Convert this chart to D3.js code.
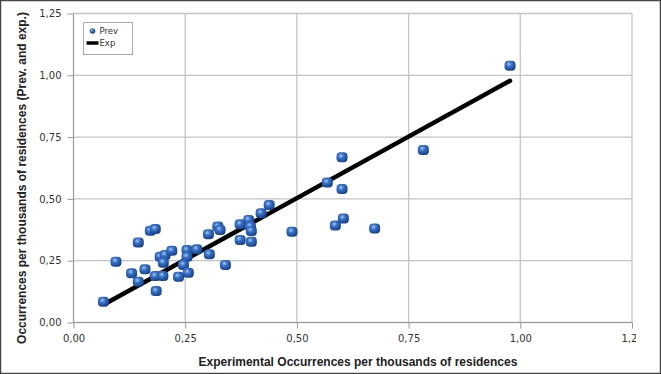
<!DOCTYPE html>
<html>
<head>
<meta charset="utf-8">
<script src="https://cdn.jsdelivr.net/npm/d3@7"></script>
<style>
  body { margin: 0; background: #fff; }
  svg text { font-family: "DejaVu Sans", Verdana, sans-serif; fill: #333; }
  .title { font-family: "Liberation Sans", Arial, sans-serif; font-size: 12px; font-weight: bold; fill: #222; }
</style>
</head>
<body>
<div id="chart"></div>
<script>
// Prev: experimental (x) vs predicted (y) occurrences
const prevX = [0.067, 0.095, 0.130, 0.145, 0.145, 0.160, 0.172, 0.183, 0.185, 0.183, 0.200,
  0.194, 0.205, 0.220, 0.201, 0.235, 0.254, 0.254, 0.246, 0.257, 0.276, 0.302, 0.323, 0.328,
  0.304, 0.340, 0.373, 0.392, 0.396, 0.398, 0.373, 0.398, 0.420, 0.438, 0.489, 0.568, 0.601,
  0.601, 0.586, 0.604, 0.674, 0.783, 0.977];
const prevY = [0.084, 0.246, 0.199, 0.165, 0.324, 0.215, 0.371, 0.378, 0.127, 0.188, 0.188,
  0.266, 0.273, 0.290, 0.242, 0.185, 0.293, 0.266, 0.233, 0.201, 0.296, 0.357, 0.388, 0.374,
  0.276, 0.233, 0.397, 0.415, 0.388, 0.370, 0.334, 0.327, 0.442, 0.475, 0.367, 0.566, 0.668,
  0.540, 0.392, 0.421, 0.380, 0.698, 1.039];
// Exp line
const expX = [0.072, 0.977];
const expY = [0.077, 0.978];
const ticks = [0, 0.25, 0.5, 0.75, 1.0, 1.25];

const width = 661, height = 374;
const margin = {top: 13.5, right: 29, bottom: 51.5, left: 73.5};

const svg = d3.select('#chart').append('svg')
  .attr('width', width)
  .attr('height', height);

const defs = svg.append('defs');
const grad = defs.append('radialGradient')
  .attr('id', 'ball')
  .attr('cx', '40%').attr('cy', '35%').attr('r', '70%');
grad.append('stop').attr('offset', '0%').attr('stop-color', '#a4c8f4');
grad.append('stop').attr('offset', '35%').attr('stop-color', '#3a73c6');
grad.append('stop').attr('offset', '100%').attr('stop-color', '#123b86');

// the last x label is cut off in the original
defs.append('clipPath').attr('id', 'cut')
  .append('rect').attr('x', 0).attr('y', -10).attr('width', 636).attr('height', 60);

// outer frame
svg.append('rect')
  .attr('x', 0.5).attr('y', 0.5)
  .attr('width', width - 1).attr('height', height - 1)
  .attr('fill', 'none').attr('stroke', '#444').attr('stroke-width', 1.5);

const x = d3.scaleLinear().domain([0, 1.25]).range([margin.left, width - margin.right]);
const y = d3.scaleLinear().domain([0, 1.25]).range([height - margin.bottom, margin.top]);
const fmt = (d) => d3.format('.2f')(d).replace('.', ',');

// grid
const grid = svg.append('g');
grid.selectAll('.gx').data(ticks).enter().append('line')
  .attr('x1', (d) => x(d)).attr('x2', (d) => x(d))
  .attr('y1', y(0)).attr('y2', y(1.25))
  .attr('stroke', '#c4c4c4').attr('stroke-width', 1.3);
grid.selectAll('.gy').data(ticks).enter().append('line')
  .attr('x1', x(0)).attr('x2', x(1.25))
  .attr('y1', (d) => y(d)).attr('y2', (d) => y(d))
  .attr('stroke', '#c4c4c4').attr('stroke-width', 1.3);

// axes
const xAxis = d3.axisBottom(x).tickValues(ticks).tickFormat(fmt).tickSize(6).tickPadding(6);
const yAxis = d3.axisLeft(y).tickValues(ticks).tickFormat(fmt).tickSize(6).tickPadding(6);

const xg = svg.append('g')
  .attr('transform', `translate(0, ${y(0)})`)
  .attr('clip-path', 'url(#cut)')
  .call(xAxis);
const yg = svg.append('g')
  .attr('transform', `translate(${x(0)}, 0)`)
  .call(yAxis);
[xg, yg].forEach((g) => {
  g.select('.domain').attr('stroke', '#999');
  g.selectAll('.tick line').attr('stroke', '#999');
  g.selectAll('text').attr('font-size', 10).attr('fill', '#333')
    .style('font-family', '"DejaVu Sans", Verdana, sans-serif');
});
xg.selectAll('.domain').attr('d', `M${x(0)},0H${x(1.25)}`);
yg.selectAll('.domain').attr('d', `M0,${y(0)}V${y(1.25)}`);

// Exp line
const line = d3.line().x((d) => x(d[0])).y((d) => y(d[1]));
svg.append('path')
  .datum(d3.zip(expX, expY))
  .attr('d', line)
  .attr('fill', 'none')
  .attr('stroke', '#000')
  .attr('stroke-width', 4.5)
  .attr('stroke-linecap', 'round');

// Prev markers
svg.append('g').selectAll('rect')
  .data(d3.zip(prevX, prevY))
  .enter()
  .append('rect')
  .attr('x', (d) => x(d[0]) - 5.5)
  .attr('y', (d) => y(d[1]) - 5)
  .attr('width', 11).attr('height', 10)
  .attr('rx', 4).attr('ry', 4)
  .attr('fill', 'url(#ball)');

// legend
const legend = svg.append('g').attr('transform', 'translate(83.5, 22.5)');
legend.append('rect')
  .attr('width', 49).attr('height', 32)
  .attr('fill', '#fff').attr('stroke', '#aaa');
legend.append('circle')
  .attr('cx', 9).attr('cy', 8.5).attr('r', 2.8)
  .attr('fill', 'url(#ball)');
legend.append('line')
  .attr('x1', 3).attr('x2', 15).attr('y1', 20.5).attr('y2', 20.5)
  .attr('stroke', '#000').attr('stroke-width', 3.5);
legend.append('text').attr('x', 16).attr('y', 11.5).attr('font-size', 8.5).text('Prev');
legend.append('text').attr('x', 16).attr('y', 23.5).attr('font-size', 8.5).text('Exp');

// titles
svg.append('text')
  .attr('class', 'title')
  .attr('x', 358)
  .attr('y', 366)
  .attr('text-anchor', 'middle')
  .text('Experimental Occurrences per thousands of residences');
svg.append('text')
  .attr('class', 'title')
  .attr('transform', 'translate(26, 178) rotate(-90)')
  .attr('text-anchor', 'middle')
  .text('Occurrences per thousands of residences (Prev. and exp.)');
</script>
</body>
</html>
